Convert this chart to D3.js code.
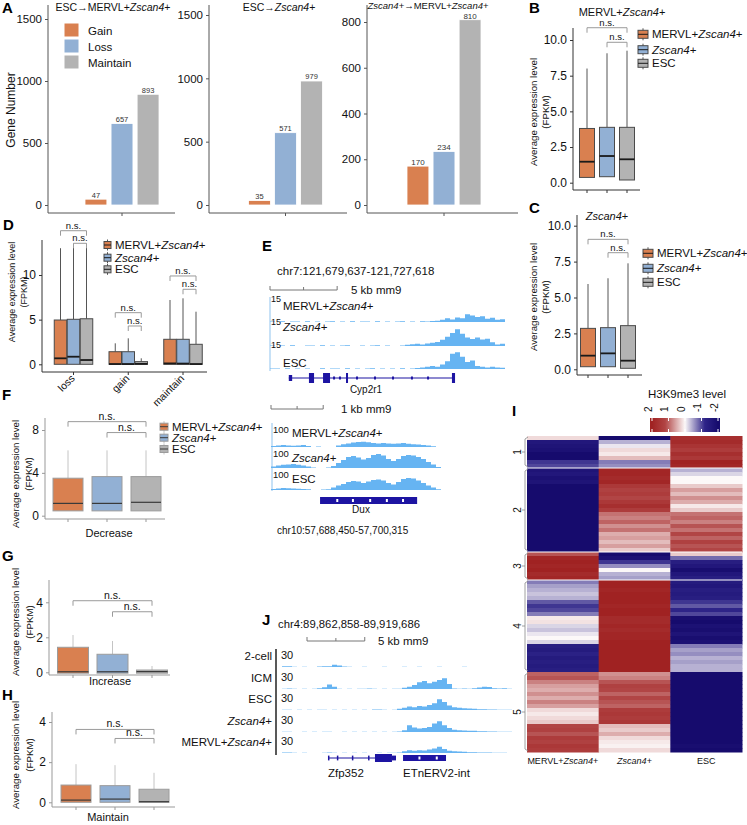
<!DOCTYPE html>
<html>
<head>
<meta charset="utf-8">
<script src="https://cdn.jsdelivr.net/npm/d3@7/dist/d3.min.js"></script>
<style>
  body { margin: 0; background: #fff; }
  svg { display: block; }
</style>
</head>
<body>
<script>
// ---------- DATA ----------

// A: gene numbers per transition
const transitions = ["ESC→MERVL+Zscan4+", "ESC→Zscan4+", "Zscan4+→MERVL+Zscan4+"];
const changeTypes = ["Gain", "Loss", "Maintain"];
const geneCounts = [[47, 657, 893], [35, 571, 979], [170, 234, 810]];
const geneTicks = [[0, 500, 1000, 1500], [0, 500, 1000, 1500], [0, 200, 400, 600, 800]];

// B-H: box stats [lower, q1, median, q3, upper] per cell type
const cellTypes = ["MERVL+Zscan4+", "Zscan4+", "ESC"];
const boxB = [[0.37, 0.37, 1.47, 3.8, 8.0], [0.42, 0.42, 1.87, 3.88, 9.07], [0.19, 0.19, 1.64, 3.88, 9.25]];
const boxC = [[0.18, 0.18, 0.95, 2.85, 5.94], [0.18, 0.18, 1.11, 2.9, 6.34], [0.07, 0.07, 0.6, 3.04, 7.38]];
const dGroups = ["loss", "gain", "maintain"];
const boxD = [
  [[0, 0, 0.67, 4.96, 13.0], [0, 0, 0.85, 5.04, 13.5], [0, 0, 0.48, 5.1, 13.5]],
  [[0, 0, 0.03, 1.41, 2.35], [0, 0, 0.03, 1.41, 2.91], [0, 0, 0.05, 0.3, 0.67]],
  [[0, 0, 0.1, 2.8, 7.2], [0, 0, 0.08, 2.8, 7.39], [0, 0, 0.03, 2.24, 5.89]]
];
const boxF = [[0.45, 0.45, 1.15, 3.5, 6.1], [0.45, 0.45, 1.15, 3.65, 6.1], [0.45, 0.45, 1.25, 3.65, 6.1]];
const boxG = [[-0.05, -0.05, 0.03, 1.43, 2.13], [-0.05, -0.05, 0.03, 1.03, 1.79], [-0.05, -0.05, 0.04, 0.13, 0.36]];
const boxH = [[0, 0, 0.11, 0.86, 1.9], [0, 0, 0.16, 0.83, 1.85], [0, 0, 0.03, 0.65, 1.47]];
// n.s. bracket heights: [MERVL vs ESC, Zscan4 vs ESC]
const sigB = [10.86, 9.84];
const sigC = [9.05, 8.12];
const sigD = [[14.96, 13.55], [5.78, 4.29], [9.89, 8.4]];
const sigF = [8.78, 7.76];
const sigG = [4.09, 3.46];
const sigH = [3.63, 3.18];

// E: Cyp2r1 locus coverage (0-15), 47 bins
const cypMervl = [0.4,0,0.5,0,0.3,0.4,0,0.5,0,0.4,0,0.3,0.5,0,0.4,0,0.5,0,0.3,0.4,0,0.5,0,0.4,0,0.3,0.5,0,0.4,0,0.5,0.4,0.6,0.8,
  1.5,2.5,1.6,3,2.4,5,4.2,3.3,3.8,2.2,2.8,1.4,1.8];
const cypZscan = [0.3,0,0.4,0,0.5,0,0,0.3,0.4,0,0.5,0,0.3,0,0.4,0.5,0,0,0.4,0,0.3,0.5,0,0.4,0,0,0.3,
  0.8,1.2,1.5,1.0,1.6,2.2,2.6,4,6,8.5,11,8,5.5,4.5,5.5,4.2,4.8,2.4,1,1.4];
const cypEsc = [0.3,0.4,0,0.5,0,0.3,0,0.4,0,0,0.5,0,0.3,0.4,0,0.5,0,0.3,0,0.4,0.5,0,0.3,0,0.4,0,0.5,0,0.3,0.6,
  1,1.5,2,1.5,3,5,10,11,8,4.5,5.5,2,1.5,1,1.5,1,0.8];
// E: Dux locus coverage (0-100), 34 bins
const duxMervl = [5,8,10,8,6,8,10,5,0,2,0,0,0,8,14,18,22,25,26,24,20,18,20,18,16,18,20,16,14,12,10,8,4,0];
const duxZscan = [8,12,16,18,20,16,12,8,2,0,0,3,10,25,40,55,60,52,42,50,65,70,62,45,35,45,60,65,62,55,45,30,18,5];
const duxEsc = [5,8,10,9,8,6,5,4,0,0,2,4,12,22,30,40,45,42,35,42,50,52,48,35,28,40,55,60,58,48,35,22,12,4];
// gene models (kb from left edge of view): [start, end, kind]
const cypExons = [[1.4, 1.65, "utr"], [2.9, 3.28, "cds"], [3.95, 4.47, "cds"], [5.66, 5.81, "cds"], [13.55, 13.78, "cds"]];
const cypMarks = [4.77, 5.21, 6.48, 7.82, 9.16, 10.57, 11.77];
const duxExons = [[0.94, 2.8, "cds"]];
const duxMarks = [1.27, 1.57, 1.9, 2.22, 2.53];

// J: Zfp352 / ETnERV2 locus coverage (0-30), 46 bins
const jSamples = ["2-cell", "ICM", "ESC", "Zscan4+", "MERVL+Zscan4+"];
const jTwoCell = [1.2,1.5,0.5,0,0.3,0,0,1,1.2,1.5,4,2.5,0.8,0.3,0,0,0.5,0,0,0,0.3,0,0,0,0.4,0,0,0.3,0,0,0,0.3,0,0,0,0,0.3,0,0,0,0,0,0,0,0,0];
const jIcm = [0.5,1,0.3,0,0.4,0,0.5,1.5,3,8,4,0.5,0,0.4,0,0.5,0.3,0.8,0.5,0,0.3,0,0.4,0.5,2,4,7,12,14,10,13,16,19,9,1,0.5,1,0.5,1.5,2.5,4,3.5,1.5,0.8,1.2,0.5];
const jEsc = [0.5,0.3,0,0.4,0,0.3,0,0.5,0.3,0,0.4,0,0.3,0,0.5,0,0.3,0,0.8,1,0.5,0,0.5,2,4,6,5,7,6,9,12,19,14,8,5,4,3,2.5,2,1.5,1.5,1,0.8,0.5,0.5,0.3];
const jZscan = [0.3,0.5,0,0,0.4,0,0.3,0,0.5,0.3,0,0,0.4,0,0.3,0,0.4,0,0.3,0,0.5,0,0.3,0.8,3,12,8,6,7,9,15,19,12,7,4,3,2.5,2,2,1.5,1.5,1,1,0.5,0.5,0.3];
const jMervl = [0.8,1,0.3,0,0.3,0,0,0,0.5,0.8,0.3,0,0.3,0,0.3,0,0.4,0,0,0.3,0,0.4,0.5,1,3,5,4,5,4.5,6,8,11,7,4,3,2.5,2,1.5,1.5,1,1,0.8,0.5,0.3,0.3,0];
const zfpExons = [[3.98, 4.08, "utr"], [4.75, 4.85, "utr"], [6.05, 6.15, "utr"], [7.45, 7.55, "utr"], [8.05, 9.52, "cds"], [9.52, 9.87, "utr"]];
const etnExons = [[10.48, 14.2, "cds"]];
const etnMarks = [11.9, 13.4];

// I: H3K9me3 z-scores [MERVL+Zscan4+, Zscan4+, ESC], clusters 1-5
const heatClusters = [8, 21, 7, 23, 20];
const heatRows = [
  [0.2,-2,1.7],[-1.6,-0.4,1.8],[-1.7,-0.1,1.6],[-1.8,0.2,1.4],[-2,0.1,1.7],[-2,0.4,1.5],[-1.1,-0.7,2],[-1.0,-0.6,1.9],
  [-1.7,1.9,-0.4],[-1.6,1.9,-0.2],[-1.8,1.8,0],[-1.7,1.9,0],[-2,1.5,0.3],[-2,1.3,0.6],[-2,1.4,0.4],[-2,1.2,0.7],
  [-2,1.5,0.5],[-2,1.7,0.1],[-2,1.4,0.3],[-2,0.9,0.9],[-2,0.8,1.0],[-2,1.0,0.8],[-2,0.7,1.1],[-2,0.9,0.9],
  [-2,0.5,1.2],[-2,0.6,1.0],[-2,0.4,1.3],[-2,0.6,1.1],[-2,0.3,1.2],
  [1.1,-2,0.3],[1.9,-1.8,-0.8],[2,-1.1,-1.4],[1.9,-0.6,-1.6],[2,0,-1.9],[1.8,-0.4,-1.6],[1.9,-0.5,-1.4],
  [-0.7,2,-1.5],[-0.5,2,-1.6],[-0.4,1.9,-1.4],[-0.3,2,-1.5],[-0.4,2,-1.4],[-0.9,2,-1.1],[-1.1,1.9,-0.9],[-1.0,2,-1.2],
  [-0.7,2,-1.0],[0.1,1.8,-1.9],[0.15,1.8,-2],[-0.2,1.9,-1.8],[-0.3,1.8,-1.9],[-0.1,1.9,-1.7],[0.0,1.9,-1.9],[-0.2,2,-1.8],
  [-1.4,2,-0.7],[-1.5,2,-0.5],[-1.3,2,-0.6],[-1.5,2,-0.4],[-1.4,2,-0.5],[-1.5,2,-0.4],[-1.4,2,-0.4],
  [1.0,0.7,-2],[1.1,0.8,-2],[0.8,1.1,-2],[0.6,1.3,-2],[0.5,1.2,-2],[0.7,1.0,-2],[0.5,1.2,-2],[0.8,1.1,-2],
  [0.6,1.0,-2],[0.2,1.4,-2],[0.1,1.5,-2],[0.2,1.4,-2],[0.3,1.5,-2],[1.2,0.4,-2],[1.3,0.3,-2],[1.1,0.5,-2],
  [1.4,0.2,-2],[1.3,0.1,-2],[1.5,0.05,-1.9],[1.4,0.2,-2]
];
const heatTicks = [2, 1, 0, -1, -2];

// ---------- SETUP ----------
const FONT = "'Liberation Sans', Arial, Helvetica, sans-serif";
const COLORS = ["#d98050", "#92b0d4", "#b3b3b3"];
const COV = "#66b4f2";
const GENE = "#1d14a2";

const svg = d3.select("body").append("svg")
  .attr("width", 747).attr("height", 825)
  .attr("font-family", FONT);

function label(x, y, str, fs, anchor) {
  const t = svg.append("text").attr("x", x).attr("y", y)
    .attr("font-size", fs).attr("text-anchor", anchor || "start").attr("fill", "#111");
  str.split(/(Zscan4)/).filter(s => s.length).forEach(s =>
    t.append("tspan").attr("font-style", s === "Zscan4" ? "italic" : null).text(s));
  return t;
}

function rotLabel(x, y, str, fs) {
  return label(0, 0, str, fs, "middle").attr("transform", `translate(${x},${y}) rotate(-90)`);
}

function panelTag(t, x, y) {
  svg.append("text").attr("x", x).attr("y", y).attr("font-size", 15)
    .attr("font-weight", "bold").attr("fill", "#000").text(t);
}

function leftAxis(y, ticks, x, top, bottom, fmt, fs, col) {
  const g = svg.append("g").attr("transform", `translate(${x},0)`)
    .call(d3.axisLeft(y).tickValues(ticks).tickFormat(fmt).tickSize(3).tickPadding(3));
  g.attr("font-family", null).attr("font-size", fs);
  g.select(".domain").remove();
  g.selectAll(".tick line").attr("stroke", col);
  g.selectAll(".tick text").attr("fill", "#111");
  svg.append("line").attr("x1", x).attr("x2", x).attr("y1", top).attr("y2", bottom).attr("stroke", col);
}

function bottomAxis(x0, x1, yy, ticks, col) {
  svg.append("line").attr("x1", x0).attr("x2", x1).attr("y1", yy).attr("y2", yy).attr("stroke", col);
  ticks.forEach(t => svg.append("line").attr("x1", t).attr("x2", t)
    .attr("y1", yy).attr("y2", yy + 3).attr("stroke", col));
}

function drawBox(cx, w, v, y, fill, st) {
  const [lo, q1, med, q3, hi] = v;
  svg.append("line").attr("x1", cx).attr("x2", cx).attr("y1", y(q3)).attr("y2", y(hi))
    .attr("stroke", st.whisker);
  if (lo < q1) {
    svg.append("line").attr("x1", cx).attr("x2", cx).attr("y1", y(q1)).attr("y2", y(lo))
      .attr("stroke", st.whisker);
  }
  svg.append("rect").attr("x", cx - w / 2).attr("y", y(q3))
    .attr("width", w).attr("height", Math.max(1, y(q1) - y(q3)))
    .attr("fill", fill).attr("stroke", st.stroke);
  svg.append("line").attr("x1", cx - w / 2).attr("x2", cx + w / 2)
    .attr("y1", y(med)).attr("y2", y(med))
    .attr("stroke", st.median).attr("stroke-width", st.mw);
}

function bracket(xa, xb, yy, fs) {
  svg.append("path").attr("d", `M${xa},${yy + 5}V${yy}H${xb}V${yy + 5}`)
    .attr("fill", "none").attr("stroke", "#9a9a9a");
  svg.append("text").attr("x", (xa + xb) / 2).attr("y", yy - 2).attr("text-anchor", "middle")
    .attr("font-size", fs).attr("fill", "#111").text("n.s.");
}

function boxLegend(x, ys, sw, sh, fs, st) {
  cellTypes.forEach((c, i) => {
    const yc = ys[i];
    svg.append("line").attr("x1", x + sw / 2).attr("x2", x + sw / 2)
      .attr("y1", yc - sh / 2 - 2).attr("y2", yc + sh / 2 + 2).attr("stroke", st.whisker);
    svg.append("rect").attr("x", x).attr("y", yc - sh / 2).attr("width", sw).attr("height", sh)
      .attr("fill", COLORS[i]).attr("stroke", st.stroke);
    svg.append("line").attr("x1", x).attr("x2", x + sw).attr("y1", yc).attr("y2", yc)
      .attr("stroke", st.median);
    label(x + sw + 4, yc + 4, c, fs);
  });
}

const darkBox = { stroke: "#4a4a4a", whisker: "#555", median: "#1a1a1a", mw: 1.8 };
const lightBox = { stroke: "#9c9c9c", whisker: "#c4c4c4", median: "#3a3a3a", mw: 1.2 };

function boxPanel(o) {
  const y = d3.scaleLinear().domain([0, o.max]).range([o.y0, o.yMax]);
  const x = d3.scalePoint().domain(cellTypes).range(o.xr);
  leftAxis(y, o.ticks, o.ax, o.top, o.base, o.fmt, 12, o.axisCol);
  bottomAxis(o.ax, o.right, o.base, cellTypes.map(c => x(c)), o.axisCol);
  o.data.forEach((v, i) => drawBox(x(cellTypes[i]), o.bw, v, y, COLORS[i], o.style));
  bracket(x(cellTypes[0]), x(cellTypes[2]), y(o.sig[0]), o.nsFs);
  bracket(x(cellTypes[1]), x(cellTypes[2]), y(o.sig[1]), o.nsFs);
}

function coverage(vals, x0, step, base, h, maxV) {
  const xs = d3.scaleLinear().domain([0, vals.length]).range([x0, x0 + step * vals.length]);
  const ys = d3.scaleLinear().domain([0, maxV]).range([base, base - h]);
  const area = d3.area().x((d, i) => xs(i)).y0(base).y1(d => ys(d)).curve(d3.curveStepAfter);
  svg.append("path").datum(vals.concat([0])).attr("d", area).attr("fill", COV);
}

function geneModel(kx, yc, exons, marks, cdsH, markCol, showLine) {
  const start = d3.min(exons, e => e[0]), end = d3.max(exons, e => e[1]);
  if (showLine) {
    svg.append("line").attr("x1", kx(start)).attr("x2", kx(end)).attr("y1", yc).attr("y2", yc)
      .attr("stroke", GENE).attr("stroke-width", 1.2);
  }
  exons.forEach(([a, b, kind]) => {
    const hh = kind === "cds" ? cdsH : cdsH * 0.6;
    svg.append("rect").attr("x", kx(a)).attr("y", yc - hh / 2)
      .attr("width", Math.max(1.5, kx(b) - kx(a))).attr("height", hh).attr("fill", GENE);
  });
  marks.forEach(m => svg.append("rect").attr("x", kx(m) - 1).attr("y", yc - 1.5)
    .attr("width", 2).attr("height", 3).attr("fill", markCol));
}

function scaleBar(x0, x1, yy, txt, lx, fs) {
  svg.append("path").attr("d", `M${x0},${yy - 4}V${yy}H${x1}V${yy - 4}M${(x0 + x1) / 2},${yy}V${yy - 3}`)
    .attr("fill", "none").attr("stroke", "#777");
  label(lx, yy + 4, txt, fs);
}

// ---------- A ----------
panelTag("A", 2, 13);
const aLayout = [
  { ax: 48, right: 175, cx: 122, top: 19, labFs: 7.5, labGap: 1.5, titleX: 113, titleY: 11, titleFs: 10.5 },
  { ax: 209, right: 347, cx: 285.5, top: 15, labFs: 7.5, labGap: 1.5, titleX: 279, titleY: 11, titleFs: 10.5 },
  { ax: 367, right: 518, cx: 444, top: 22, labFs: 8, labGap: 1.2, titleX: 428, titleY: 8.8, titleFs: 9.5 }
];
geneCounts.forEach((counts, k) => {
  const p = aLayout[k];
  const y = d3.scaleLinear().domain([0, d3.max(geneTicks[k])]).range([205, p.top]);
  const x = d3.scaleBand().domain(changeTypes).range([p.cx - 37, p.cx + 37]).paddingInner(0.16);
  leftAxis(y, geneTicks[k], p.ax, 5, 213, d3.format("d"), 11.5, "#555");
  bottomAxis(p.ax, p.right, 213, [p.cx], "#555");
  counts.forEach((v, i) => {
    svg.append("rect").attr("x", x(changeTypes[i])).attr("y", y(v))
      .attr("width", x.bandwidth()).attr("height", y(0) - y(v))
      .attr("fill", COLORS[i]).attr("stroke", "#fff").attr("stroke-width", 0.8);
    svg.append("text").attr("x", x(changeTypes[i]) + x.bandwidth() / 2).attr("y", y(v) - p.labGap)
      .attr("text-anchor", "middle").attr("font-size", p.labFs).attr("fill", "#333").text(v);
  });
  label(p.titleX, p.titleY, transitions[k], p.titleFs, "middle");
});
rotLabel(15, 110, "Gene Number", 12);
changeTypes.forEach((c, i) => {
  svg.append("rect").attr("x", 64).attr("y", 23 + i * 16).attr("width", 15).attr("height", 14)
    .attr("fill", COLORS[i]).attr("stroke", "#fff");
  label(88, 35 + i * 16, c, 11.5);
});

// ---------- B ----------
panelTag("B", 529, 13);
label(622, 16, "MERVL+Zscan4+", 11, "middle");
boxPanel({ data: boxB, sig: sigB, max: 10, y0: 182.7, yMax: 40, ticks: [0, 2.5, 5, 7.5, 10],
  fmt: d3.format(".1f"), ax: 573, top: 28, base: 190, right: 640, xr: [587, 627], bw: 15,
  style: darkBox, axisCol: "#333", nsFs: 9.5 });
rotLabel(537, 112, "Average expression level", 9.7);
rotLabel(549, 112, "(FPKM)", 9.7);
boxLegend(638, [34.3, 49.7, 63.3], 10, 8, 11.5, darkBox);

// ---------- C ----------
panelTag("C", 529, 213);
label(607, 220, "Zscan4+", 11, "middle");
boxPanel({ data: boxC, sig: sigC, max: 10, y0: 369.3, yMax: 225.7, ticks: [0, 2.5, 5, 7.5, 10],
  fmt: d3.format(".1f"), ax: 577, top: 215, base: 375, right: 642, xr: [588, 628], bw: 15,
  style: darkBox, axisCol: "#333", nsFs: 9.5 });
rotLabel(537, 297, "Average expression level", 9.7);
rotLabel(549, 297, "(FPKM)", 9.7);
boxLegend(643, [253.3, 268.3, 282.3], 10, 8, 11.5, darkBox);

// ---------- D ----------
panelTag("D", 3, 230);
{
  const y = d3.scaleLinear().domain([0, 10]).range([364.3, 275]);
  const gx = d3.scalePoint().domain(dGroups).range([73.5, 183]);
  const ix = d3.scalePoint().domain(cellTypes).range([-13, 13]);
  leftAxis(y, [0, 5, 10], 42, 240, 372, d3.format("d"), 12, "#333");
  bottomAxis(42, 207, 372, dGroups.map(g => gx(g)), "#333");
  dGroups.forEach((g, gi) => {
    boxD[gi].forEach((v, i) => drawBox(gx(g) + ix(cellTypes[i]), 12.5, v, y, COLORS[i], darkBox));
    bracket(gx(g) + ix(cellTypes[0]), gx(g) + ix(cellTypes[2]), y(sigD[gi][0]), 9.5);
    bracket(gx(g) + ix(cellTypes[1]), gx(g) + ix(cellTypes[2]), y(sigD[gi][1]), 9.5);
    svg.append("text").attr("transform", `translate(${gx(g) + 2},379) rotate(-45)`)
      .attr("text-anchor", "end").attr("font-size", 10.5).attr("fill", "#111").text(g);
  });
  rotLabel(15, 292, "Average expression level", 9);
  rotLabel(27, 292, "(FPKM)", 9);
  boxLegend(104, [245, 257.7, 269.3], 7, 7, 11.5, darkBox);
}

// ---------- E ----------
panelTag("E", 262, 251);
{
  label(277, 275, "chr7:121,679,637-121,727,618", 11.5);
  const kx = d3.scaleLinear().domain([0, 17.5]).range([270, 505]);
  scaleBar(kx(0), kx(5), 290, "5 kb mm9", 351, 11.5);
  svg.append("line").attr("x1", 270).attr("x2", 270).attr("y1", 297).attr("y2", 371).attr("stroke", "#8fc3ee");
  [cypMervl, cypZscan, cypEsc].forEach((vals, i) => coverage(vals, 270, 5, [322, 346, 369][i], 23, 15));
  [["MERVL+Zscan4+", 302, 310], ["Zscan4+", 325, 331], ["ESC", 348, 367]].forEach(([n, y15, yn]) => {
    label(271, y15, "15", 9);
    label(283, yn, n, 11.5);
  });
  geneModel(kx, 378, cypExons, cypMarks, 10, GENE, true);
  label(366, 393, "Cyp2r1", 10, "middle");

  const dx = d3.scaleLinear().domain([0, 3.2]).range([271, 438]);
  scaleBar(dx(0), dx(1), 409, "1 kb mm9", 341, 11.5);
  svg.append("line").attr("x1", 272).attr("x2", 272).attr("y1", 423).attr("y2", 491).attr("stroke", "#8fc3ee");
  [duxMervl, duxZscan, duxEsc].forEach((vals, i) => coverage(vals, 271, 5, [447, 468, 490][i], 20, 100));
  [["MERVL+Zscan4+", 433, 437], ["Zscan4+", 457, 462], ["ESC", 478, 483]].forEach(([n, y1, yn]) => {
    label(273, y1, "100", 9.5);
    label(292, yn, n, 11.5);
  });
  geneModel(dx, 500.5, duxExons, duxMarks, 7, "#fff", false);
  label(361, 513, "Dux", 10, "middle");
  label(277, 534, "chr10:57,688,450-57,700,315", 10);
}

// ---------- F, G, H ----------
panelTag("F", 2, 400);
boxPanel({ data: boxF, sig: sigF, max: 8, y0: 515.7, yMax: 430, ticks: [0, 4, 8], fmt: d3.format("d"),
  ax: 45, top: 418, base: 519, right: 165, xr: [68, 146], bw: 30, style: lightBox, axisCol: "#999", nsFs: 10.5 });
rotLabel(19, 474, "Average expression level", 9.7);
rotLabel(32, 474, "(FPKM)", 9.7);
label(109, 537, "Decrease", 11, "middle");
boxLegend(160, [426.7, 437.7, 449], 8, 7, 11.5, lightBox);

panelTag("G", 2, 561);
boxPanel({ data: boxG, sig: sigG, max: 4, y0: 672.3, yMax: 602.3, ticks: [0, 2, 4], fmt: d3.format("d"),
  ax: 49, top: 580, base: 675, right: 170, xr: [73, 152], bw: 31, style: lightBox, axisCol: "#999", nsFs: 10.5 });
rotLabel(19, 622, "Average expression level", 9.7);
rotLabel(33, 622, "(FPKM)", 9.7);
label(110, 685, "Increase", 11, "middle");

panelTag("H", 2, 700);
boxPanel({ data: boxH, sig: sigH, max: 4, y0: 802.3, yMax: 722, ticks: [0, 2, 4], fmt: d3.format("d"),
  ax: 52, top: 712, base: 807, right: 175, xr: [76, 154], bw: 30, style: lightBox, axisCol: "#999", nsFs: 10.5 });
rotLabel(19, 755, "Average expression level", 9.7);
rotLabel(33, 755, "(FPKM)", 9.7);
label(108, 821, "Maintain", 11, "middle");

// ---------- I ----------
panelTag("I", 512, 416);
{
  const hx = d3.scaleBand().domain(cellTypes).range([527, 742]);
  const hy = d3.scaleBand().domain(d3.range(heatRows.length)).range([436, 752]);
  const col = d3.scaleLinear().domain([-2, -1.2, 0, 1.2, 2])
    .range(["#160b6d", "#2e2488", "#fcf8f8", "#b14545", "#a02222"]).clamp(true);
  heatRows.forEach((row, r) => row.forEach((v, c) => {
    svg.append("rect").attr("x", hx(cellTypes[c])).attr("y", hy(r))
      .attr("width", hx.bandwidth() + 0.5).attr("height", hy.bandwidth() + 0.5).attr("fill", col(v));
  }));
  let acc = 0;
  heatClusters.forEach((n, k) => {
    const y0 = hy(acc), y1 = hy(acc + n - 1) + hy.bandwidth();
    if (k > 0 && k < 4) {
      svg.append("line").attr("x1", 527).attr("x2", 742).attr("y1", y0).attr("y2", y0)
        .attr("stroke", "#fff").attr("stroke-width", 1);
    }
    const yc = (y0 + y1) / 2;
    svg.append("path").attr("d", `M528,${y0 + 1}L525,${y0 + 3}V${y1 - 3}L528,${y1 - 1}M525,${yc}H522`)
      .attr("fill", "none").attr("stroke", "#888").attr("stroke-width", 0.8);
    svg.append("text").attr("transform", `translate(521,${yc}) rotate(-90)`)
      .attr("text-anchor", "middle").attr("font-size", 10).attr("fill", "#111").text(k + 1);
    acc += n;
  });
  cellTypes.forEach(c => label(hx(c) + hx.bandwidth() / 2, 764, c, 9, "middle"));

  // colour key
  label(687, 398, "H3K9me3 level", 11.5, "middle");
  const cb = d3.scaleLinear().domain([2, -2]).range([652, 718]);
  const grad = svg.append("defs").append("linearGradient").attr("id", "hk").attr("x1", "0").attr("x2", "1");
  col.domain().slice().reverse().forEach(v => grad.append("stop")
    .attr("offset", (cb(v) - 650) / 70).attr("stop-color", col(v)));
  svg.append("rect").attr("x", 650).attr("y", 418).attr("width", 70).attr("height", 14).attr("fill", "url(#hk)");
  heatTicks.forEach(v => {
    svg.append("path").attr("d", `M${cb(v)},418v3M${cb(v)},429v3`).attr("stroke", "#fff");
    svg.append("text").attr("transform", `translate(${cb(v) - 0.5},412) rotate(-90)`)
      .attr("font-size", 10).attr("fill", "#111").text(v);
  });
}

// ---------- J ----------
panelTag("J", 262, 625);
{
  label(278, 628, "chr4:89,862,858-89,919,686", 11.3);
  const kx = d3.scaleLinear().domain([0, 20]).range([282, 513]);
  scaleBar(kx(0) + 25, kx(5) + 25, 641, "5 kb mm9", 378, 11.5);
  svg.append("line").attr("x1", 276).attr("x2", 276).attr("y1", 649).attr("y2", 755)
    .attr("stroke", "#222").attr("stroke-width", 1.5);
  const bases = [667, 689, 710, 732, 753];
  [jTwoCell, jIcm, jEsc, jZscan, jMervl].forEach((vals, i) => {
    coverage(vals, 282, 5, bases[i], 17, 30);
    label(281, bases[i] - 8, "30", 11);
    label(272, bases[i] - 7, jSamples[i], 11.5, "end");
  });
  geneModel(kx, 758, zfpExons, [], 8, GENE, true);
  geneModel(kx, 758, etnExons, etnMarks, 6, "#fff", false);
  label(328, 777, "Zfp352", 11.5);
  label(403, 777, "ETnERV2-int", 11.5);
}
</script>
</body>
</html>
